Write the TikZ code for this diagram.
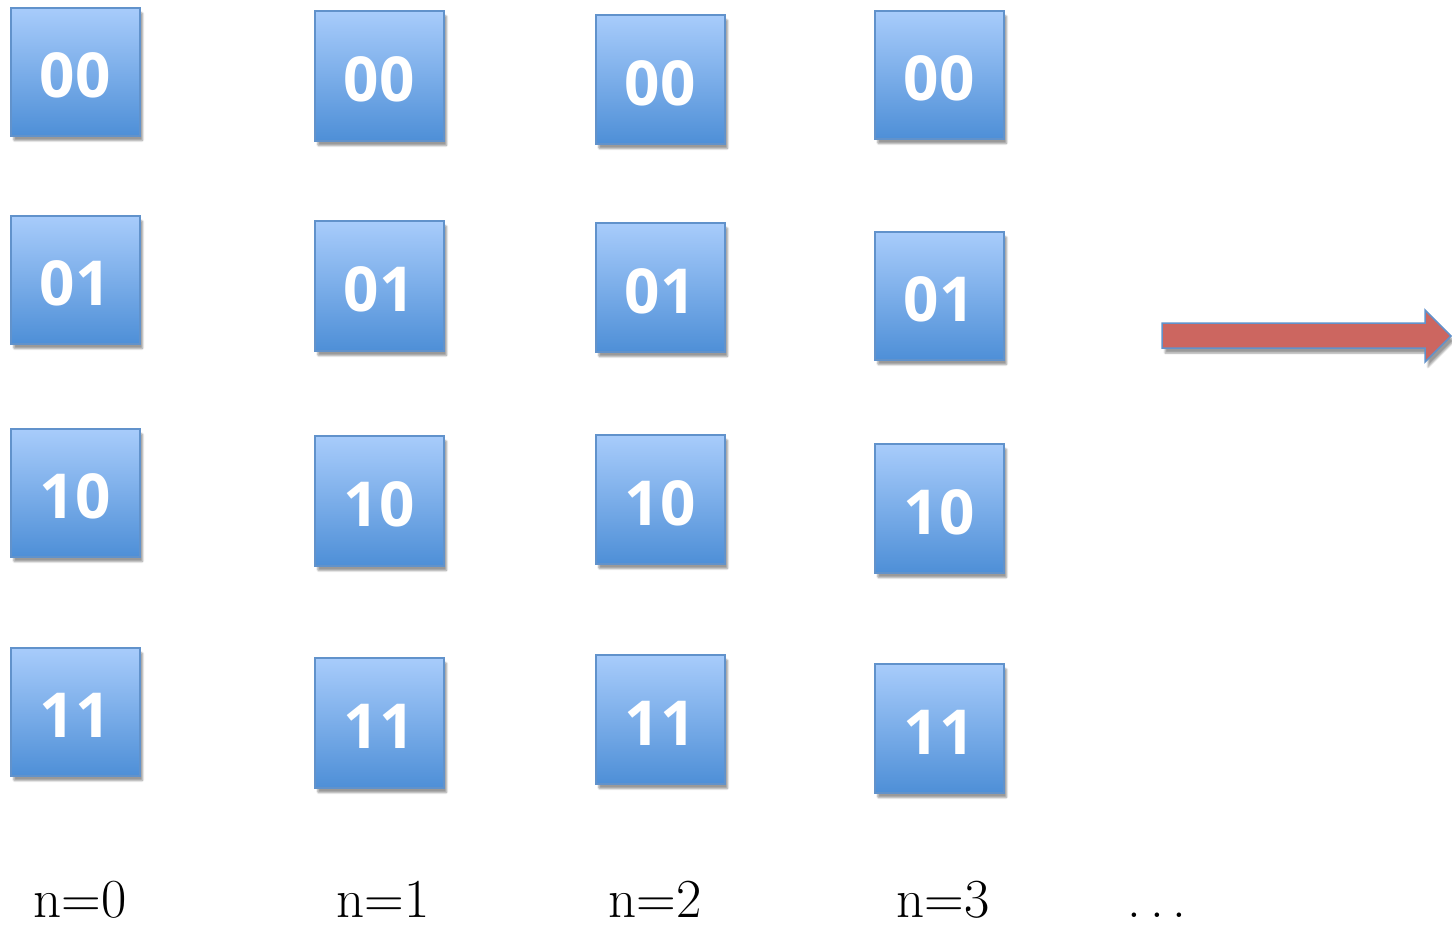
\documentclass[tikz,border=0pt]{standalone}
\usepackage{fontspec}
\usetikzlibrary{shadows.blur}
\newfontfamily\boxfont{Open Sans}
\definecolor{boxtop}{HTML}{A8CCFB}
\definecolor{boxbot}{HTML}{4E8FD7}
\definecolor{boxedge}{HTML}{6192CB}
\definecolor{arrowred}{HTML}{CC6660}
\begin{document}
\begin{tikzpicture}[x=1pt,y=-1pt,
  cell/.style={draw=boxedge, line width=1.5pt, top color=boxtop, bottom color=boxbot,
    minimum width=129pt, minimum height=128pt, inner sep=0pt, anchor=north west,
    text=white, font=\boxfont\bfseries\fontsize{62}{62}\selectfont,
    text height=52pt, text depth=0pt,
    blur shadow={shadow xshift=3pt, shadow yshift=-5pt, shadow blur steps=6, shadow blur extra rounding=1pt, shadow opacity=40}},
  nlabel/.style={anchor=base, font=\fontsize{55}{55}\selectfont, inner sep=0pt, text depth=0pt},
  bigarrow/.style={draw=boxedge, line width=1.5pt, fill=arrowred,
    blur shadow={shadow xshift=3pt, shadow yshift=-5pt, shadow blur steps=6, shadow opacity=40}}]
\useasboundingbox (0,0) rectangle (1452,927);
% column 0
\node[cell] (a00) at (10,7) {00};
\node[cell] (a01) at (10,215) {01};
\node[cell] (a10) at (10,428) {10};
\node[cell] (a11) at (10,647) {11};
% column 1
\node[cell, minimum height=130pt] (b00) at (314,10) {00};
\node[cell, minimum height=130pt] (b01) at (314,220) {01};
\node[cell, minimum height=130pt] (b10) at (314,435) {10};
\node[cell, minimum height=130pt] (b11) at (314,657) {11};
% column 2
\node[cell, minimum height=129pt] (c00) at (595,14) {00};
\node[cell, minimum height=129pt] (c01) at (595,222) {01};
\node[cell, minimum height=129pt] (c10) at (595,434) {10};
\node[cell, minimum height=129pt] (c11) at (595,654) {11};
% column 3
\node[cell] (d00) at (874,10) {00};
\node[cell] (d01) at (874,231) {01};
\node[cell, minimum height=129pt] (d10) at (874,443) {10};
\node[cell, minimum height=129pt] (d11) at (874,663) {11};
% labels
\node[nlabel] (l0) at (80,917) {n=0};
\node[nlabel] (l1) at (383,917) {n=1};
\node[nlabel] (l2) at (655,917) {n=2};
\node[nlabel] (l3) at (943,917) {n=3};
\node[nlabel] (ldots) at (1157,917) {.\kern9pt.\kern9pt.};
% arrow
\draw[bigarrow] (1162,323) -- (1425,323) -- (1425,310) -- (1451,336) -- (1425,362) -- (1425,348) -- (1162,348) -- cycle;
\end{tikzpicture}
\end{document}
